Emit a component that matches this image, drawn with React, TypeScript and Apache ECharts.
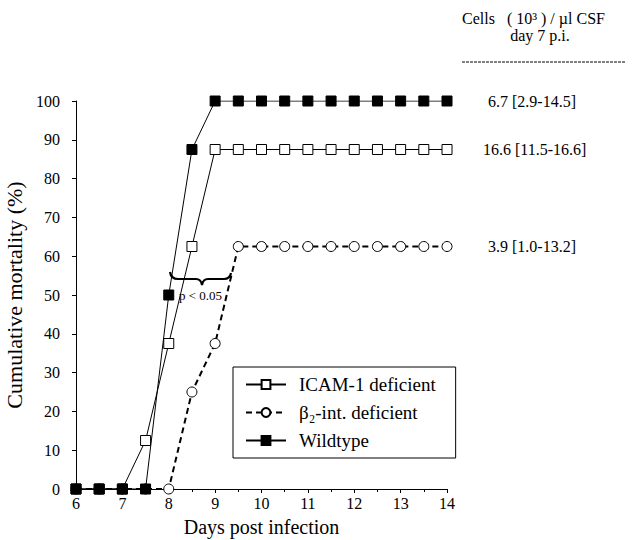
import React, { useEffect, useRef } from "react";
import * as echarts from "echarts";

const days = [6, 6.5, 7, 7.5, 8, 8.5, 9, 9.5, 10, 10.5, 11, 11.5, 12, 12.5, 13, 13.5, 14];
const icamValues = [0, 0, 0, 12.5, 37.5, 62.5, 87.5, 87.5, 87.5, 87.5, 87.5, 87.5, 87.5, 87.5, 87.5, 87.5, 87.5];
const beta2Values = [0, 0, 0, 0, 0, 25, 37.5, 62.5, 62.5, 62.5, 62.5, 62.5, 62.5, 62.5, 62.5, 62.5, 62.5];
const wildValues = [0, 0, 0, 0, 50, 87.5, 100, 100, 100, 100, 100, 100, 100, 100, 100, 100, 100];
const seriesNames = ["ICAM-1 deficient", "β₂-int. deficient", "Wildtype"];
const cellStats = ["16.6 [11.5-16.6]", "3.9 [1.0-13.2]", "6.7 [2.9-14.5]"];

const SERIF = "Liberation Serif";

const BRACE = "M0,0 Q1,7 8,7 L26,7 Q31,7 32,13 Q33,7 38,7 L54,7 Q60,7 61,1";
echarts.graphic.registerShape("brace", echarts.graphic.extendPath(BRACE, {}));

function pairs(vals: number[]) {
  return days.map((d, i) => [d, vals[i]]);
}

export default function App() {
  const ref = useRef<HTMLDivElement>(null);
  useEffect(() => {
    const chart = echarts.init(ref.current!, null, { renderer: "svg" });
    const endLabel = (txt: string, dist: number) => ({
      show: true,
      formatter: txt,
      distance: dist,
      color: "#000",
      fontFamily: SERIF,
      fontSize: 16,
    });
    chart.setOption({
      animation: false,
      backgroundColor: "#fff",
      textStyle: { fontFamily: SERIF, color: "#000" },
      grid: { left: 76, right: 185, top: 101, bottom: 51, containLabel: false, outerBoundsMode: "none" },
      xAxis: {
        type: "value",
        min: 6,
        max: 14,
        interval: 1,
        name: "Days post infection",
        nameLocation: "middle",
        nameGap: 28,
        nameTextStyle: { fontFamily: SERIF, fontSize: 20, color: "#000" },
        axisLine: { lineStyle: { color: "#000", width: 1 } },
        axisTick: { show: true, length: 4, lineStyle: { color: "#000" } },
        minorTick: { show: true, splitNumber: 2, length: 3, lineStyle: { color: "#000" } },
        axisLabel: { fontFamily: SERIF, fontSize: 16, color: "#000", margin: 6 },
        splitLine: { show: false },
      },
      yAxis: {
        type: "value",
        min: 0,
        max: 100,
        interval: 10,
        name: "Cumulative mortality (%)",
        nameLocation: "middle",
        nameGap: 46,
        nameTextStyle: { fontFamily: SERIF, fontSize: 22, color: "#000" },
        axisLine: { show: true, lineStyle: { color: "#000", width: 1 } },
        axisTick: { show: true, length: 4, lineStyle: { color: "#000" } },
        axisLabel: { fontFamily: SERIF, fontSize: 16, color: "#000", margin: 16 },
        splitLine: { show: false },
      },
      legend: {
        orient: "vertical",
        left: 233,
        top: 367,
        padding: [8, 20, 8, 12],
        borderColor: "#000",
        borderWidth: 1,
        itemWidth: 40,
        itemHeight: 11,
        itemGap: 9,
        textStyle: { fontFamily: SERIF, fontSize: 19, color: "#000", padding: [0, 0, 0, 8] },
        data: seriesNames,
      },
      series: [
        {
          name: seriesNames[0],
          type: "line",
          data: pairs(icamValues),
          symbol: "rect",
          symbolSize: 10,
          lineStyle: { color: "#000", width: 1 },
          itemStyle: { color: "#fff", borderColor: "#000", borderWidth: 1 },
          endLabel: endLabel(cellStats[0], 36),
          z: 2,
        },
        {
          name: seriesNames[1],
          type: "line",
          data: pairs(beta2Values),
          symbol: "circle",
          symbolSize: 10,
          lineStyle: { color: "#000", width: 2, type: [6, 4] },
          itemStyle: { color: "#fff", borderColor: "#000", borderWidth: 1 },
          endLabel: endLabel(cellStats[1], 41),
          z: 3,
        },
        {
          name: seriesNames[2],
          type: "line",
          data: pairs(wildValues),
          symbol: "rect",
          symbolSize: 10,
          lineStyle: { color: "#000", width: 1 },
          itemStyle: { color: "#000", borderColor: "#000", borderWidth: 1 },
          endLabel: endLabel(cellStats[2], 41),
          z: 4,
        },
      ],
      graphic: [
        {
          type: "text",
          x: 462,
          y: 10,
          style: { text: "Cells   ( 10³ ) / µl CSF", fontFamily: SERIF, fontSize: 16, fill: "#000" },
        },
        {
          type: "text",
          x: 540,
          y: 27,
          style: { text: "day 7 p.i.", fontFamily: SERIF, fontSize: 16, fill: "#000", align: "center" },
        },
        {
          type: "line",
          shape: { x1: 462, y1: 62, x2: 626, y2: 62 },
          style: { stroke: "#000", lineWidth: 1, lineDash: [3, 1] },
        },
        {
          type: "brace",
          x: 170,
          y: 272,
          style: { stroke: "#000", lineWidth: 2.2, fill: null },
        },
        {
          type: "text",
          x: 179,
          y: 289,
          style: { text: "p < 0.05", fontFamily: SERIF, fontSize: 13, fill: "#000" },
        },
      ],
    });
    return () => chart.dispose();
  }, []);
  return <div ref={ref} style={{ width: 632, height: 540, position: "absolute", left: 0, top: 0 }} />;
}
